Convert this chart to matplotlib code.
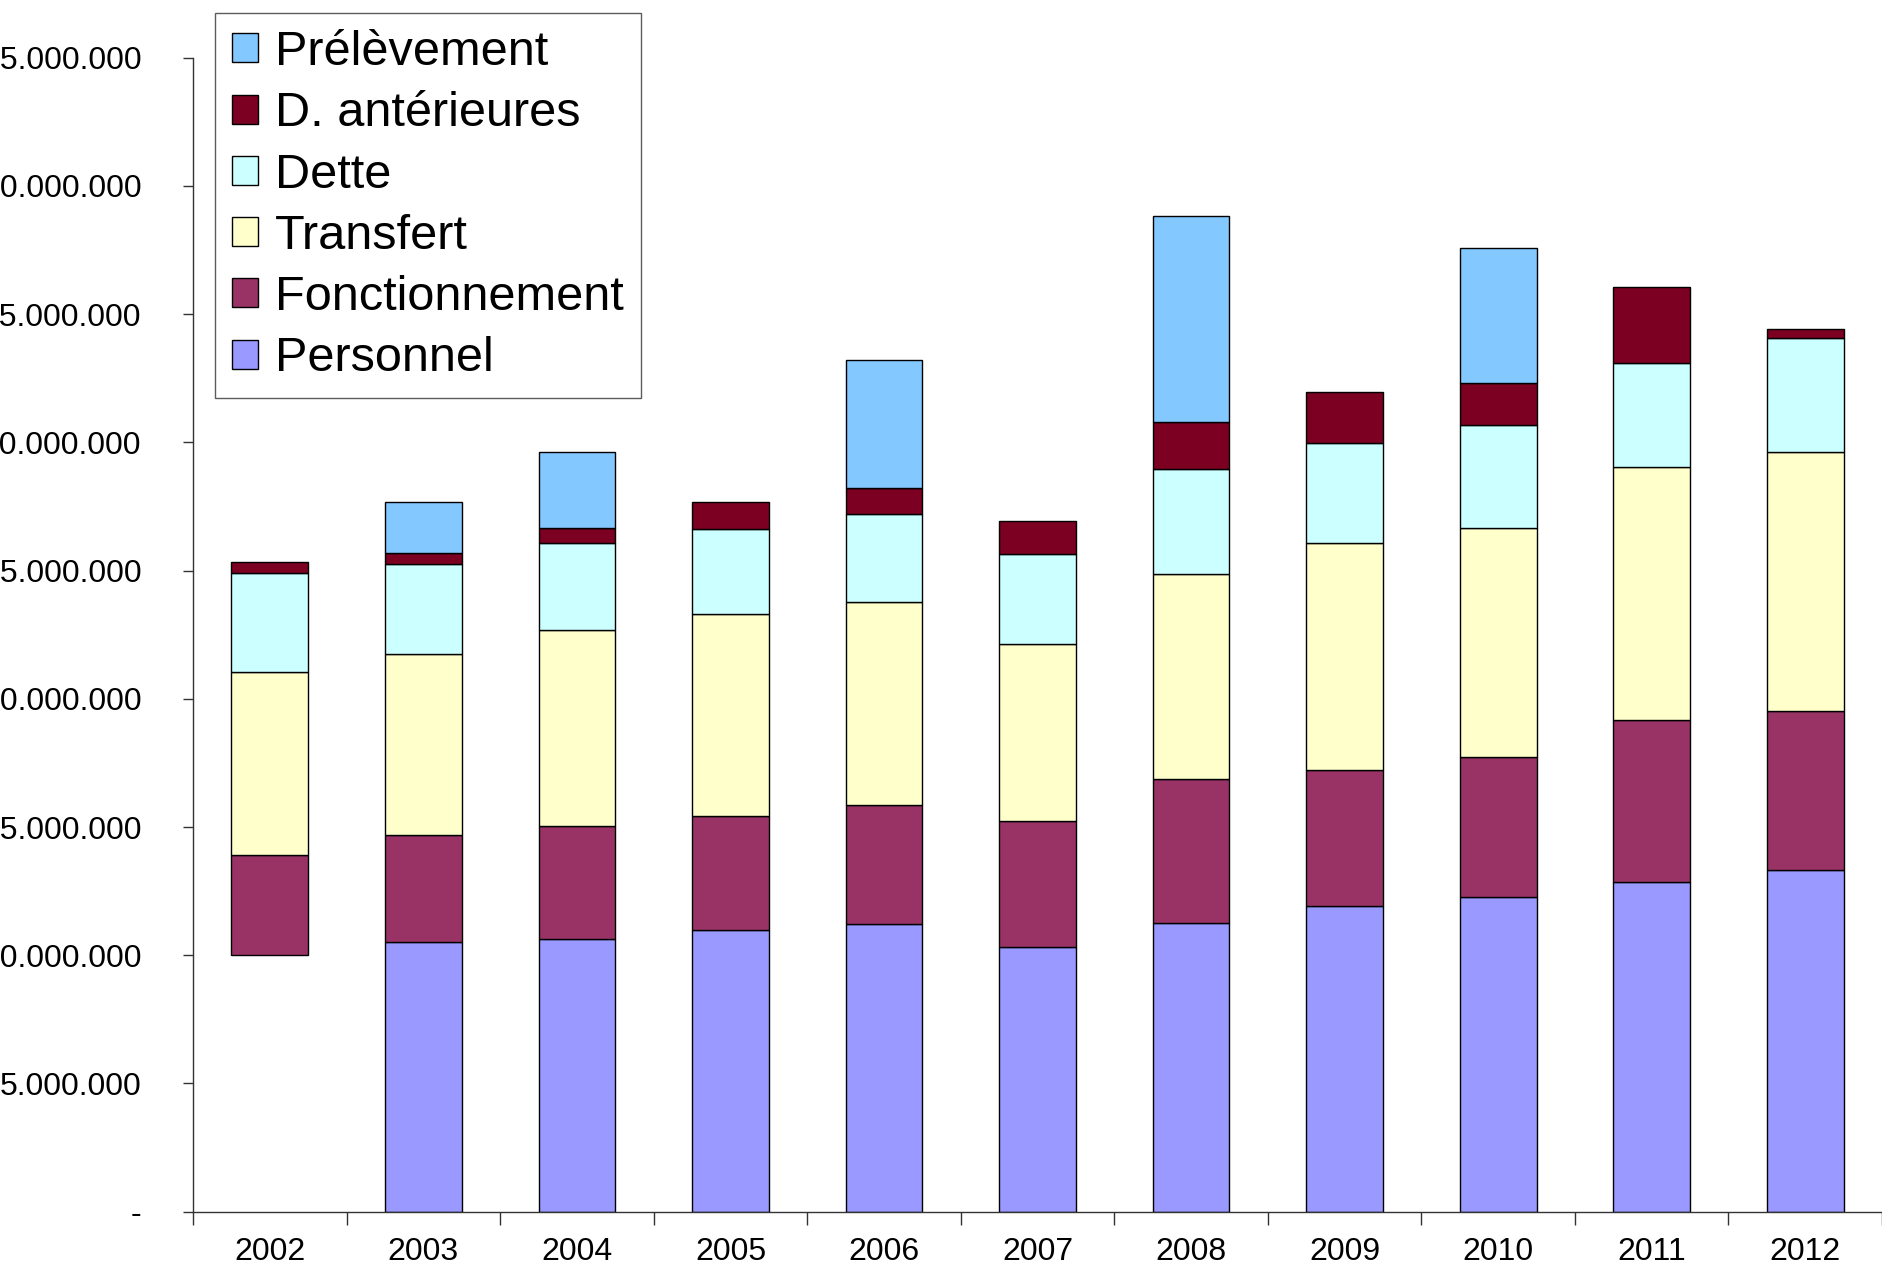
import numpy as np
import matplotlib
matplotlib.use("Agg")
import matplotlib.pyplot as plt
from matplotlib.patches import Patch

plt.rcParams['font.family'] = ['Liberation Sans', 'DejaVu Sans']

years = ["2002", "2003", "2004", "2005", "2006", "2007", "2008", "2009", "2010", "2011", "2012"]

# values (euros)
personnel      = [10.00e6, 10.51e6, 10.62e6, 11.00e6, 11.22e6, 10.31e6, 11.25e6, 11.92e6, 12.26e6, 12.85e6, 13.33e6]
fonctionnement = [3.91e6, 4.18e6, 4.42e6, 4.42e6, 4.64e6, 4.94e6, 5.64e6, 5.31e6, 5.49e6, 6.33e6, 6.19e6]
transfert      = [7.15e6, 7.06e6, 7.64e6, 7.89e6, 7.91e6, 6.88e6, 7.99e6, 8.84e6, 8.93e6, 9.85e6, 10.11e6]
dette          = [3.86e6, 3.52e6, 3.39e6, 3.30e6, 3.43e6, 3.51e6, 4.09e6, 3.90e6, 3.99e6, 4.08e6, 4.43e6]
d_anterieures  = [0.41e6, 0.41e6, 0.58e6, 1.06e6, 1.03e6, 1.31e6, 1.83e6, 1.99e6, 1.64e6, 2.94e6, 0.38e6]
prelevement    = [0, 2.01e6, 2.99e6, 0, 5.00e6, 0, 8.02e6, 0, 5.26e6, 0, 0]

# 2002 personnel bar has no fill in the original
personnel_visible = [False] + [True] * 10

series = [
    ("Personnel", personnel, "#9999FF"),
    ("Fonctionnement", fonctionnement, "#993366"),
    ("Transfert", transfert, "#FFFFCC"),
    ("Dette", dette, "#CCFFFF"),
    ("D. antérieures", d_anterieures, "#7B0022"),
    ("Prélèvement", prelevement, "#83C8FF"),
]

fig = plt.figure(figsize=(18.82, 12.66), dpi=100)
ax = fig.add_axes([0.1026, 0.0429, 0.8974, 0.9115])

x = np.arange(len(years))
bottom = np.zeros(len(years))
handles = []
for name, vals, col in series:
    vals = np.array(vals, dtype=float)
    if name == "Personnel":
        fc = [col if v else "none" for v in personnel_visible]
        ec = ["black" if v else "none" for v in personnel_visible]
    else:
        fc = [col if v > 0 else "none" for v in vals]
        ec = ["black" if v > 0 else "none" for v in vals]
    ax.bar(x, vals, 0.5, bottom=bottom, color=fc, edgecolor=ec, linewidth=1.0)
    bottom += vals
    handles.append(Patch(facecolor=col, edgecolor="black", linewidth=1.0, label=name))

ax.set_xlim(-0.5, len(years) - 0.5)
ax.set_ylim(0, 45e6)
ax.set_yticks(np.arange(0, 45e6 + 1, 5e6))
# the original chart is cropped on the left, so the leading digit of the long labels falls off the page
ax.set_yticklabels(["-" if v == 0 else f"{int(v):,}".replace(",", ".") for v in ax.get_yticks()])

ax.set_xticks(x)
ax.set_xticklabels(years)
ax.set_xticks(np.arange(-0.5, len(years)), minor=True)
ax.tick_params(axis="x", which="major", length=0, labelsize=23, pad=18)
ax.tick_params(axis="x", which="minor", length=9, width=1, color="#333333")
ax.tick_params(axis="y", length=7, width=1, color="#333333", labelsize=23, pad=30)

for s in ["top", "right"]:
    ax.spines[s].set_visible(False)
for s in ["left", "bottom"]:
    ax.spines[s].set_color("#333333")
    ax.spines[s].set_linewidth(1)

leg = ax.legend(handles=handles[::-1], loc="upper left",
                bbox_to_anchor=(215 / 1882, 1 - 13 / 1266), bbox_transform=fig.transFigure,
                fontsize=35, frameon=True, fancybox=False, borderaxespad=0,
                handlelength=0.54, handleheight=0.54, handletextpad=0.35,
                labelspacing=0.335, borderpad=0.35)
leg.get_frame().set_edgecolor("#333333")
leg.get_frame().set_linewidth(1)

fig.savefig("out.png", dpi=100)
